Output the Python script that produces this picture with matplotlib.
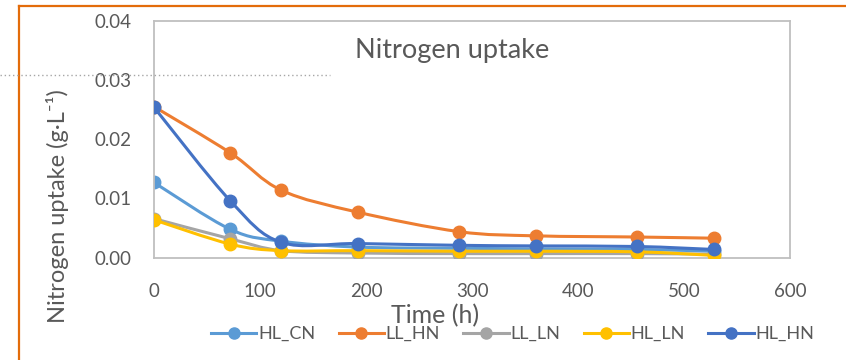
import matplotlib
matplotlib.use("Agg")
import matplotlib.pyplot as plt
from matplotlib.path import Path
from matplotlib.patches import PathPatch
from matplotlib.lines import Line2D
import numpy as np

plt.rcParams['font.family'] = ['Lato', 'DejaVu Sans']

time_h = [0, 72, 120, 192, 288, 360, 456, 528]
hl_cn = [0.0127, 0.0048, 0.0028, 0.0018, 0.0016, 0.0015, 0.0014, 0.0011]
ll_hn = [0.0255, 0.0177, 0.0114, 0.0077, 0.0044, 0.0037, 0.0035, 0.0033]
ll_ln = [0.0066, 0.0032, 0.0012, 0.0008, 0.0007, 0.0007, 0.0007, 0.0006]
hl_ln = [0.0064, 0.0023, 0.0012, 0.0012, 0.0011, 0.0011, 0.0010, 0.0004]
hl_hn = [0.0254, 0.0096, 0.0026, 0.0024, 0.0021, 0.0020, 0.0019, 0.0014]

names = ['HL_CN', 'LL_HN', 'LL_LN', 'HL_LN', 'HL_HN']
series = [hl_cn, ll_hn, ll_ln, hl_ln, hl_hn]
colors = ['#5B9BD5', '#ED7D31', '#A5A5A5', '#FFC000', '#4472C4']

x_ticks = [0, 100, 200, 300, 400, 500, 600]
y_ticks = [0.0, 0.01, 0.02, 0.03, 0.04]


def smooth_path(xs, ys):
    # Excel-like smoothed line: cubic Bezier through the points
    p = np.column_stack([xs, ys])
    n = len(p)
    verts = [p[0]]
    codes = [Path.MOVETO]
    for i in range(n - 1):
        p0 = p[max(i - 1, 0)]
        p1 = p[i]
        p2 = p[i + 1]
        p3 = p[min(i + 2, n - 1)]
        c1 = p1 + (p2 - p0) / 6.0
        c2 = p2 - (p3 - p1) / 6.0
        verts += [c1, c2, p2]
        codes += [Path.CURVE4] * 3
    return Path(verts, codes)


fig = plt.figure(figsize=(8.46, 3.6), dpi=100)
ax = fig.add_axes([0.182, 0.284, 0.752, 0.6585])

handles = []
for i, (name, ys, c) in enumerate(zip(names, series, colors)):
    patch = PathPatch(smooth_path(time_h, ys), facecolor='none', edgecolor=c,
                      lw=2.2, zorder=2 + i, capstyle='round', joinstyle='round')
    ax.add_patch(patch)
    ax.plot(time_h, ys, linestyle='none', marker='o', ms=9, color=c, zorder=2 + i)
    handles.append(Line2D([], [], color=c, lw=2.2, marker='o', ms=8))

ax.set_xlim(0, 600)
ax.set_ylim(0, 0.04)
ax.set_xticks(x_ticks)
ax.set_yticks(y_ticks)
ax.set_yticklabels(['%.2f' % v for v in y_ticks])
ax.tick_params(length=0, labelsize=13.5, colors='#595959')
ax.tick_params(axis='y', pad=16)
ax.tick_params(axis='x', pad=18)
for s in ax.spines.values():
    s.set_color('#BFBFBF')
    s.set_linewidth(1.3)

ax.text(0.469, 0.876, 'Nitrogen uptake', transform=ax.transAxes, ha='center',
        va='center', fontsize=19.5, color='#595959')
ax.set_ylabel('Nitrogen uptake (g·L⁻¹)', fontsize=17, color='#595959')
ax.yaxis.set_label_coords(-0.134, 0.216)
ax.set_xlabel('Time (h)', fontsize=18, color='#595959')
ax.xaxis.set_label_coords(0.442, -0.195)

fig.legend(handles, names, loc='center', bbox_to_anchor=(0.606, 0.072), ncol=5,
           frameon=False, fontsize=13, labelcolor='#595959', handlelength=2.5,
           handletextpad=0.1, columnspacing=1.3)

# orange slide frame and dotted guide
fig.add_artist(Line2D([19 / 846, 19 / 846], [0, 1 - 6 / 360], color='#E36C0A', lw=1.6,
                      transform=fig.transFigure))
fig.add_artist(Line2D([19 / 846, 1], [1 - 6 / 360, 1 - 6 / 360], color='#E36C0A', lw=1.6,
                      transform=fig.transFigure))
fig.add_artist(Line2D([0, 330 / 846], [1 - 75 / 360, 1 - 75 / 360], color='#A6A6A6',
                      lw=1, linestyle=(0, (1, 2)), transform=fig.transFigure, zorder=20))

fig.savefig('out.png', dpi=100)
